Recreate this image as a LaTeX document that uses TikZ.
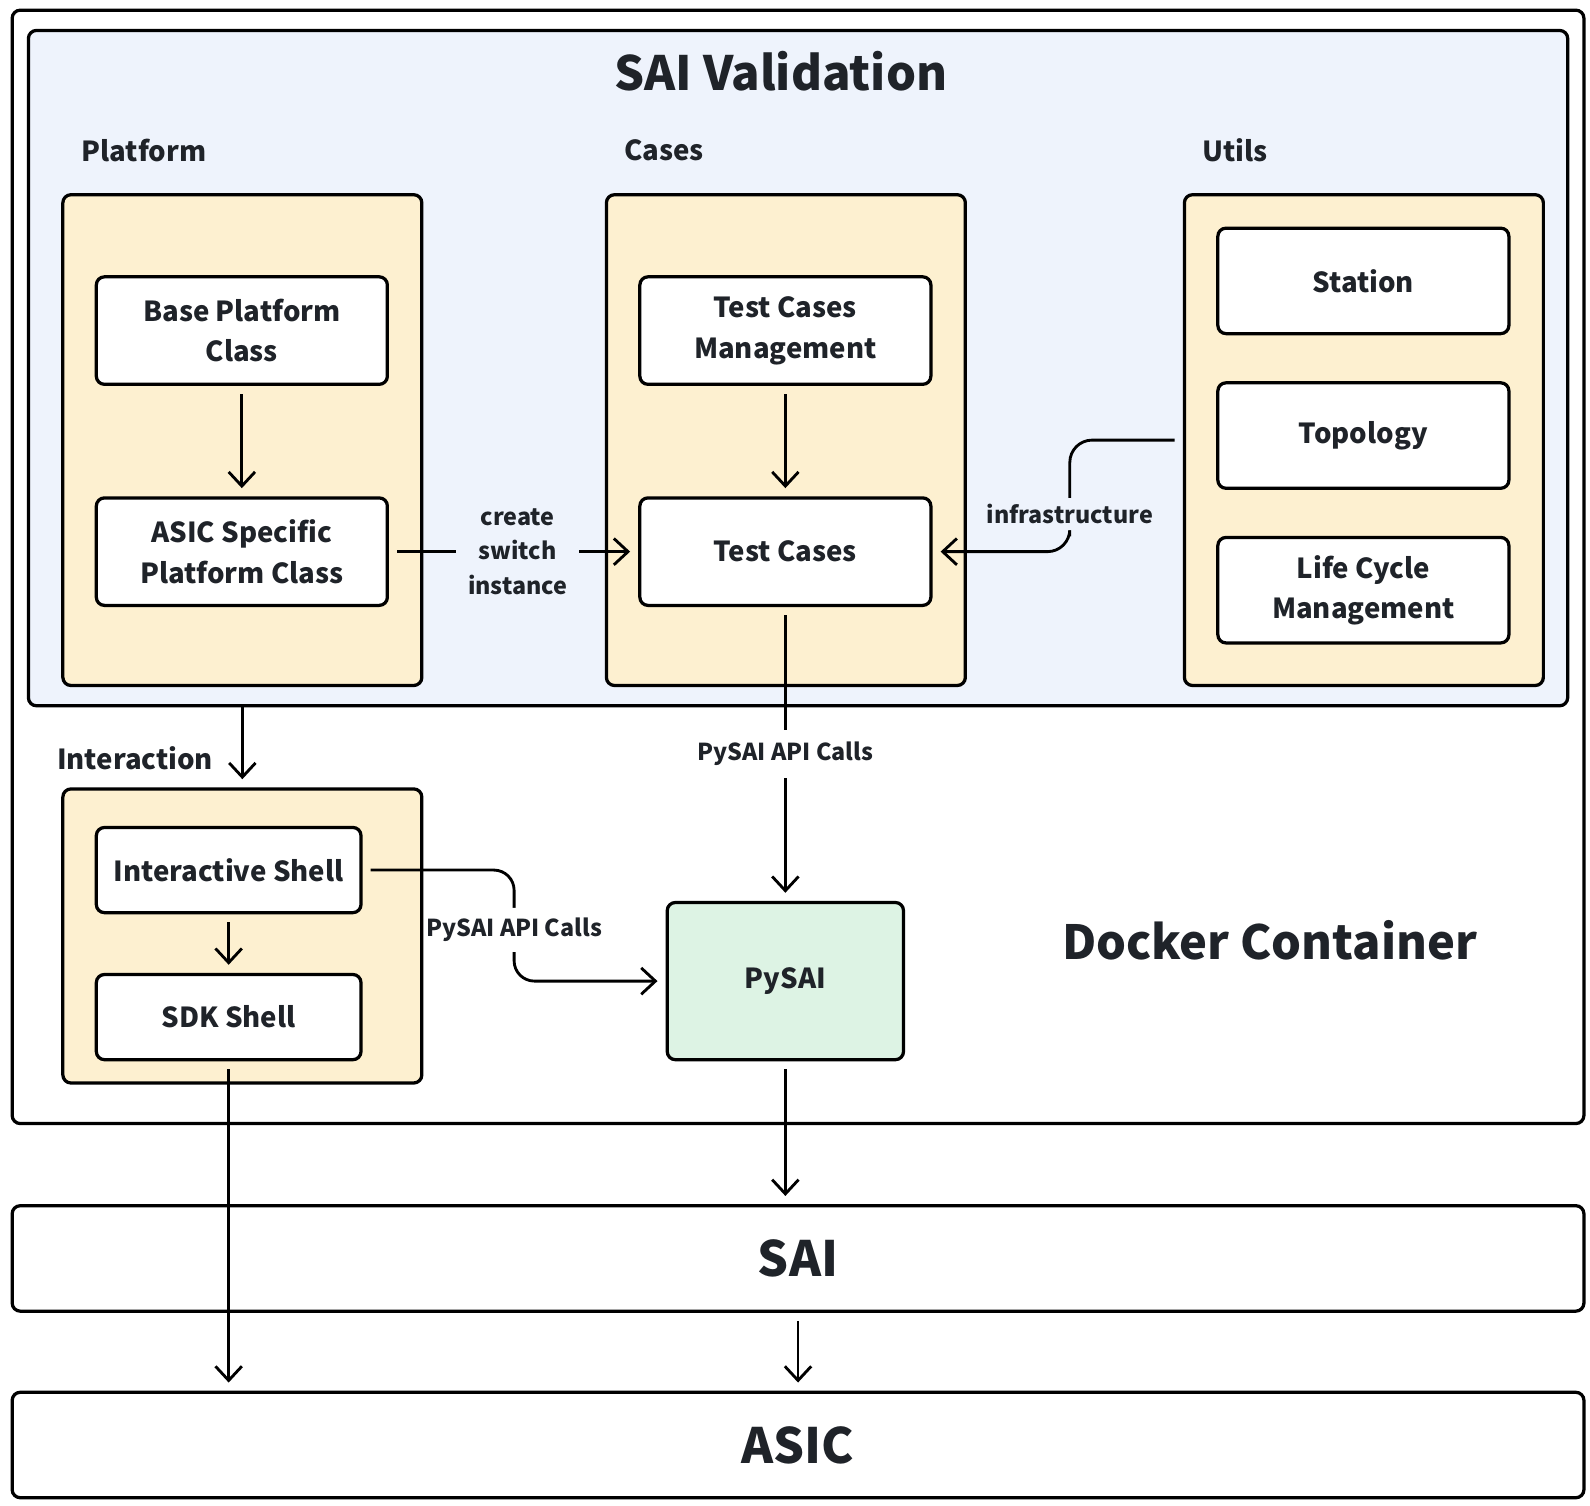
\documentclass[tikz,border=0pt]{standalone}
\usepackage{fontspec}
\setmainfont{Noto Sans CJK SC}
\usetikzlibrary{arrows.meta}
\definecolor{valbg}{HTML}{EEF3FC}
\definecolor{grpbg}{HTML}{FDF0D0}
\definecolor{pysaibg}{HTML}{DDF3E4}
\definecolor{ink}{HTML}{1F2329}

\begin{document}
\begin{tikzpicture}[x=0.5pt,y=-0.5pt,text=ink,font=\bfseries,
  layer/.style={draw,line width=1.6pt,rounded corners=4pt,inner sep=0pt},
  group/.style={layer,fill=grpbg,minimum width=177pt,minimum height=242pt},
  item/.style={layer,fill=white,minimum width=143.5pt,minimum height=53pt,align=center,
    font=\bfseries\fontsize{13.6}{20}\selectfont},
  shell/.style={item,minimum width=130.5pt,minimum height=42pt},
  band/.style={layer,fill=white,minimum width=775pt,minimum height=52pt,
    font=\bfseries\fontsize{24}{28}\selectfont},
  head/.style={anchor=west,inner sep=0pt,font=\bfseries\fontsize{13.6}{20}\selectfont},
  lbl/.style={fill=valbg,inner xsep=6pt,inner ysep=3pt,align=center,
    font=\bfseries\fontsize{11.5}{17}\selectfont},
  arr/.style={line width=1.4pt,shorten <=4pt,shorten >=4pt,
    -{Straight Barb[length=7pt,width=13pt,line width=1.4pt]}}]
\useasboundingbox (0,0) rectangle (1568,1485);
\node[layer,fill=white,minimum width=775pt,minimum height=549pt] (docker) at (787,559) {};
\node[layer,fill=valbg,minimum width=759pt,minimum height=333pt] (val) at (787,363) {};
\node[font=\bfseries\fontsize{23.3}{28}\selectfont] (title) at (770,70) {SAI Validation};
\node[font=\bfseries\fontsize{23.2}{28}\selectfont] (dock) at (1252,927) {Docker Container};

\node[head] (hplat) at (80,148) {Platform};
\node[head] (hcase) at (615,148) {Cases};
\node[head] (hutil) at (1185,148) {Utils};
\node[head] (hint) at (56,748) {Interaction};

\node[group] (platform) at (239,434) {};
\node[group] (cases) at (775,434) {};
\node[group] (utils) at (1345,434) {};
\node[group,minimum height=145pt] (interaction) at (239,923) {};

\node[item] (base) at (238.5,326) {Base Platform\\Class};
\node[item] (asicpf) at (238.5,544) {ASIC Specific\\Platform Class};
\node[item] (tcm) at (774.5,326) {Test Cases\\Management};
\node[item] (tc) at (774.5,544) {Test Cases};
\node[item,minimum height=52pt] (station) at (1344.5,277) {Station};
\node[item,minimum height=52pt] (topo) at (1344.5,429.5) {Topology};
\node[item,minimum height=52pt] (lcm) at (1344.5,582) {Life Cycle\\Management};
\node[shell] (ishell) at (225.5,858) {Interactive Shell};
\node[shell] (sdk) at (225.5,1003) {SDK Shell};
\node[item,fill=pysaibg,minimum width=116.5pt,minimum height=77.5pt] (pysai) at (774.5,967.5) {PySAI};

\node[band] (sai) at (787,1241) {SAI};
\node[band] (asic) at (787,1425) {ASIC};

\coordinate (infra) at (1055,507);
\coordinate (apic) at (507,917);

\draw[arr] (base) -- (asicpf);
\draw[arr] (tcm) -- (tc);
\draw[arr] (asicpf) -- node[lbl,xshift=2pt] {create\\switch\\instance} (tc);
\draw[arr,rounded corners=11pt] (utils.west) -| (infra) node[lbl,inner xsep=2pt] {infrastructure} |- (tc.east);
\draw[arr] (tc) -- node[lbl,fill=white,inner ysep=6pt] {PySAI API Calls} (pysai);
\draw[arr,shorten <=0pt] (val.south -| interaction.north) -- (interaction.north);
\draw[arr] (ishell) -- (sdk);
\draw[arr,rounded corners=10pt] (ishell.east) -| (apic) node[lbl,fill=white,inner xsep=0pt,inner ysep=5pt] {PySAI API Calls} |- (pysai.west);
\draw[arr] (pysai) -- (pysai |- sai.north);
\draw[arr] (sai) -- (asic);
\draw[arr] (sdk) -- (sdk |- asic.north);
\end{tikzpicture}
\end{document}
